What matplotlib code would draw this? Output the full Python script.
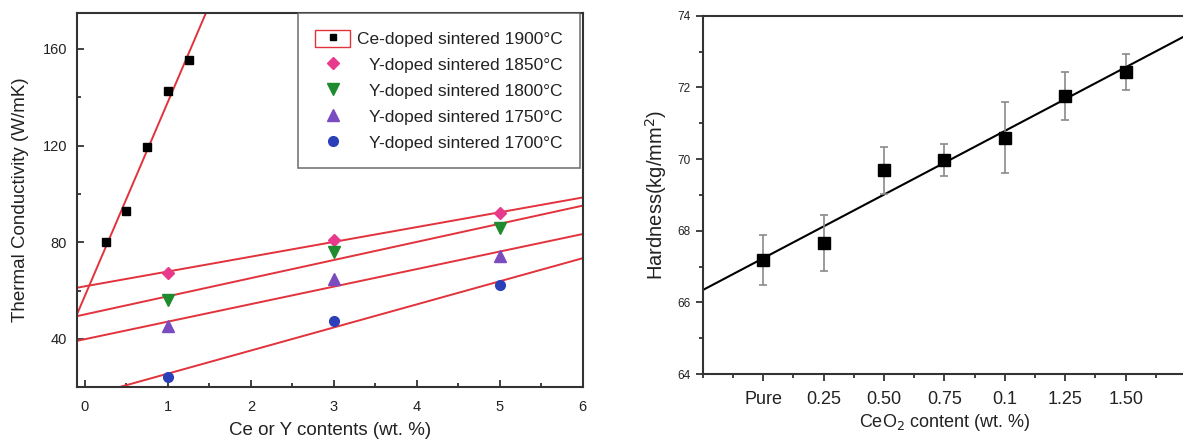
import matplotlib
matplotlib.use('Agg')
import matplotlib.pyplot as plt
from matplotlib.lines import Line2D
from matplotlib.patches import Rectangle
from matplotlib.legend_handler import HandlerTuple
from matplotlib.ticker import MultipleLocator, FixedLocator
import numpy as np

plt.rcParams['font.family'] = ['Liberation Sans', 'DejaVu Sans']
plt.rcParams['text.color'] = '#222222'
plt.rcParams['axes.labelcolor'] = '#222222'
plt.rcParams['xtick.color'] = '#222222'
plt.rcParams['ytick.color'] = '#222222'

# left panel data
ce_x = [0.25, 0.5, 0.75, 1.0, 1.25]
ce_y = [80, 93, 119.5, 142.5, 155.5]
y_x = [1, 3, 5]
y1850 = [67.5, 81, 92]
y1800 = [56, 76, 86]
y1750 = [45.5, 65, 74.5]
y1700 = [24.3, 47.5, 62.5]
left_labels = ['Ce-doped sintered 1900°C', 'Y-doped sintered 1850°C', 'Y-doped sintered 1800°C',
               'Y-doped sintered 1750°C', 'Y-doped sintered 1700°C']

# right panel data
ceo2_labels = ['Pure', '0.25', '0.50', '0.75', '0.1', '1.25', '1.50']
hardness = [67.17, 67.66, 69.68, 69.98, 70.6, 71.75, 72.43]
hardness_err = [0.7, 0.79, 0.65, 0.45, 1.0, 0.67, 0.5]

red = '#e2323c'

fig = plt.figure(figsize=(11.83, 4.4), dpi=100)
ax1 = fig.add_axes([76.7/1183, 1-387.3/440, (582.7-76.7)/1183, (387.3-12.7)/440])
ax2 = fig.add_axes([702.7/1183, 1-374/440, 483.4/1183, (374-15.7)/440])

# ---- left ----
xs = np.array([-0.1, 6.0])
series = [(ce_x, ce_y, 's', 'black'),
          (y_x, y1850, 'D', '#e83a8c'),
          (y_x, y1800, 'v', '#1e8c2e'),
          (y_x, y1750, '^', '#7a4cc0'),
          (y_x, y1700, 'o', '#2b3fb8')]
msizes = [6, 6, 8, 8, 7]
handles = []
for (sx, sy, mk, col), ms in zip(series, msizes):
    k, b = np.polyfit(sx, sy, 1)
    ax1.plot(xs, k*xs + b, color=red, lw=1.4, zorder=2)
    ax1.plot(sx, sy, ls='none', marker=mk, color=col, ms=ms, zorder=3)
    handles.append(Line2D([], [], ls='none', marker=mk, color=col, ms=ms))

handles[0] = (Rectangle((0, 0), 1, 1, facecolor='white', edgecolor=red, lw=1),
              Line2D([], [], ls='none', marker='s', color='black', ms=5))
leg = ax1.legend(handles, left_labels, loc='upper right', bbox_to_anchor=(0.995, 1.0),
                 borderaxespad=0, fancybox=False, edgecolor='#555555', fontsize=12.5,
                 handlelength=2.0, handleheight=1.1, handletextpad=0.4, labelspacing=0.5,
                 borderpad=1.0, markerfirst=True,
                 handler_map={tuple: HandlerTuple(ndivide=1, pad=0)})
leg.get_frame().set_linewidth(1.2)

ax1.set_xlim(-0.1, 6)
ax1.set_ylim(20, 175)
ax1.xaxis.set_major_locator(MultipleLocator(1))
ax1.xaxis.set_minor_locator(MultipleLocator(0.5))
ax1.yaxis.set_major_locator(MultipleLocator(40))
ax1.yaxis.set_minor_locator(MultipleLocator(20))
ax1.tick_params(which='both', direction='in', labelsize=10.5, width=1.2)
ax1.tick_params(axis='x', pad=9)
ax1.tick_params(axis='y', pad=7)
ax1.tick_params(which='major', length=5)
ax1.tick_params(which='minor', length=3)
ax1.set_xlabel('Ce or Y contents (wt. %)', fontsize=13.5, labelpad=6)
ax1.set_ylabel('Thermal Conductivity (W/mK)', fontsize=13.5, labelpad=10)
for s in ax1.spines.values():
    s.set_linewidth(1.5)
    s.set_color('#333333')

# ---- right ----
pos = np.arange(1, len(hardness) + 1)
k, b = np.polyfit(pos, hardness, 1)
lx = np.array([0, 8.0])
ax2.plot(lx, k*lx + b, color='black', lw=1.5, zorder=2)
ax2.errorbar(pos, hardness, yerr=hardness_err, fmt='s', color='black', ms=8,
             ecolor='#8a8a8a', elinewidth=1.2, capsize=3, capthick=1.2, zorder=3)
ax2.set_xlim(0, 8)
ax2.set_ylim(64, 74)
ax2.xaxis.set_major_locator(FixedLocator(pos))
ax2.set_xticklabels(ceo2_labels)
ax2.xaxis.set_minor_locator(MultipleLocator(0.5))
ax2.yaxis.set_major_locator(MultipleLocator(2))
ax2.yaxis.set_minor_locator(MultipleLocator(1))
ax2.tick_params(which='both', direction='out', width=1.2)
ax2.tick_params(axis='x', labelsize=13, pad=7)
ax2.tick_params(axis='y', labelsize=8.5)
ax2.tick_params(which='major', length=5)
ax2.tick_params(which='minor', length=3)
ax2.set_xlabel('CeO$_2$ content (wt. %)', fontsize=13, labelpad=3)
ax2.set_ylabel('Hardness(kg/mm$^2$)', fontsize=14.5, labelpad=6)
for s in ax2.spines.values():
    s.set_linewidth(1.5)
    s.set_color('#333333')

# right-align legend labels like the original
fig.canvas.draw()
renderer = fig.canvas.get_renderer()
widths = [t.get_window_extent(renderer).width for t in leg.get_texts()]
shift = max(widths)
for t, w in zip(leg.get_texts(), widths):
    t.set_position((shift - w, 0))

fig.savefig('out.png', dpi=100)
